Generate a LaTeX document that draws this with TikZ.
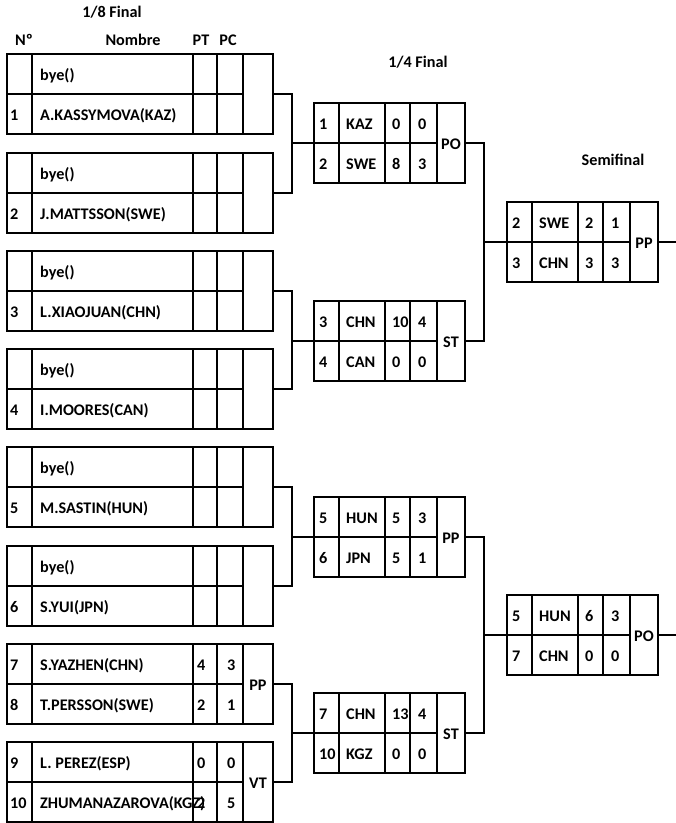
\documentclass[tikz,border=0pt]{standalone}
\usepackage{fontspec}
\setmainfont{Carlito}
\usetikzlibrary{
  positioning,
  calc
}
\tikzset{
  sheetfont/.style={font=\fontsize{16.2}{19}\selectfont\bfseries},
  eighthframe/.style={
    draw,
    line width=1.8pt,
    minimum width=266pt,
    minimum height=80pt,
    inner sep=0pt
  },
  roundframe/.style={
    draw,
    line width=1.8pt,
    minimum width=151pt,
    minimum height=80pt,
    inner sep=0pt
  },
  cellrule/.style={line width=1.1pt},
  celltext/.style={sheetfont,inner sep=0pt,anchor=base west},
  resulttext/.style={sheetfont,inner sep=0pt,anchor=base},
  headtext/.style={sheetfont,inner sep=0pt,anchor=base},
  bracket/.style={line width=1.8pt}
}

\begin{document}
\begin{tikzpicture}[x=1pt,y=-1pt]
  \useasboundingbox (0,0) rectangle (676,823);

  \node[headtext] (h8) at (112,17) {1/8 Final};
  \node[headtext] (hno) at (24,45) {Nº};
  \node[headtext] (hname) at (133,45) {Nombre};
  \node[headtext] (hpt) at (201,45) {PT};
  \node[headtext] (hpc) at (228,45) {PC};
  \node[headtext] (h4) at (418,67) {1/4 Final};
  \node[headtext] (hsemi) at (613,165) {Semifinal};

  \foreach \i/\top/\na/\pa/\ta/\ca/\nb/\pb/\tb/\cb/\res in {
    1/54/{}/bye()/{}/{}/1/A.KASSYMOVA(KAZ)/{}/{}/{},
    2/153/{}/bye()/{}/{}/2/J.MATTSSON(SWE)/{}/{}/{},
    3/251/{}/bye()/{}/{}/3/L.XIAOJUAN(CHN)/{}/{}/{},
    4/349/{}/bye()/{}/{}/4/I.MOORES(CAN)/{}/{}/{},
    5/447/{}/bye()/{}/{}/5/M.SASTIN(HUN)/{}/{}/{},
    6/546/{}/bye()/{}/{}/6/S.YUI(JPN)/{}/{}/{},
    7/644/7/S.YAZHEN(CHN)/4/3/8/T.PERSSON(SWE)/2/1/PP,
    8/742/9/L. PEREZ(ESP)/0/0/10/ZHUMANAZAROVA(KGZ)/2/5/VT}{
    \node[eighthframe] (r\i) at (140,\top+40) {};
    \draw[cellrule] (32,\top) -- (32,\top+80)
      (193,\top) -- (193,\top+80)
      (217,\top) -- (217,\top+80)
      (243,\top) -- (243,\top+80)
      (7,\top+40) -- (243,\top+40);
    \node[celltext] (r\i-na) at (10,\top+26) {\na};
    \node[celltext] (r\i-pa) at (40,\top+26) {\pa};
    \node[celltext] (r\i-ta) at (197,\top+26) {\ta};
    \node[celltext] (r\i-ca) at (227,\top+26) {\ca};
    \node[celltext] (r\i-nb) at (10,\top+66) {\nb};
    \node[celltext] (r\i-pb) at (40,\top+66) {\pb};
    \node[celltext] (r\i-tb) at (197,\top+66) {\tb};
    \node[celltext] (r\i-cb) at (227,\top+66) {\cb};
    \node[resulttext] (r\i-res) at (258,\top+46) {\res};
  }

  \foreach \j/\lft/\top/\na/\pa/\ta/\ca/\nb/\pb/\tb/\cb/\res in {
    q1/314/103/1/KAZ/0/0/2/SWE/8/3/PO,
    q2/314/301/3/CHN/10/4/4/CAN/0/0/ST,
    q3/314/497/5/HUN/5/3/6/JPN/5/1/PP,
    q4/314/693/7/CHN/13/4/10/KGZ/0/0/ST,
    s1/507/202/2/SWE/2/1/3/CHN/3/3/PP,
    s2/507/595/5/HUN/6/3/7/CHN/0/0/PO}{
    \node[roundframe] (\j) at (\lft+75.5,\top+40) {};
    \draw[cellrule] (\lft+25,\top) -- (\lft+25,\top+80)
      (\lft+71,\top) -- (\lft+71,\top+80)
      (\lft+96,\top) -- (\lft+96,\top+80)
      (\lft+123,\top) -- (\lft+123,\top+80)
      (\lft,\top+40) -- (\lft+123,\top+40);
    \node[celltext] (\j-na) at (\lft+5,\top+26) {\na};
    \node[celltext] (\j-pa) at (\lft+32,\top+26) {\pa};
    \node[celltext] (\j-ta) at (\lft+78,\top+26) {\ta};
    \node[celltext] (\j-ca) at (\lft+104,\top+26) {\ca};
    \node[celltext] (\j-nb) at (\lft+5,\top+66) {\nb};
    \node[celltext] (\j-pb) at (\lft+32,\top+66) {\pb};
    \node[celltext] (\j-tb) at (\lft+78,\top+66) {\tb};
    \node[celltext] (\j-cb) at (\lft+104,\top+66) {\cb};
    \node[resulttext] (\j-res) at (\lft+137,\top+46) {\res};
  }

  \coordinate (j1) at ($(q1.west)+(-21,0)$);
  \coordinate (j2) at ($(q2.west)+(-21,0)$);
  \coordinate (j3) at ($(q3.west)+(-21,0)$);
  \coordinate (j4) at ($(q4.west)+(-21,0)$);
  \coordinate (k1) at ($(s1.west)+(-22,0)$);
  \coordinate (k2) at ($(s2.west)+(-22,0)$);
  \coordinate (e1) at ($(s1.east)+(20,0)$);
  \coordinate (e2) at ($(s2.east)+(20,0)$);

  \draw[bracket] (r1.east) -| (j1) |- (r2.east);
  \draw[bracket] (j1) -- (q1.west);
  \draw[bracket] (r3.east) -| (j2) |- (r4.east);
  \draw[bracket] (j2) -- (q2.west);
  \draw[bracket] (r5.east) -| (j3) |- (r6.east);
  \draw[bracket] (j3) -- (q3.west);
  \draw[bracket] (r7.east) -| (j4) |- (r8.east);
  \draw[bracket] (j4) -- (q4.west);

  \draw[bracket] (q1.east) -| (k1) |- (q2.east);
  \draw[bracket] (k1) -- (s1.west);
  \draw[bracket] (q3.east) -| (k2) |- (q4.east);
  \draw[bracket] (k2) -- (s2.west);
  \draw[bracket] (s1.east) -- (e1);
  \draw[bracket] (s2.east) -- (e2);
\end{tikzpicture}
\end{document}
